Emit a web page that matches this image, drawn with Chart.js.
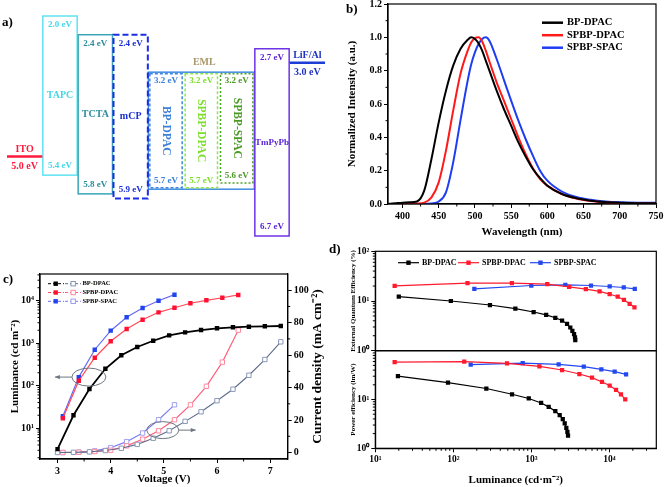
<!DOCTYPE html>
<html>
<head>
<meta charset="utf-8">
<script src="https://cdn.jsdelivr.net/npm/chart.js@4.4.1/dist/chart.umd.min.js"></script>
<style>
  body { margin: 0; background: #fff; }
  #fig { position: relative; width: 665px; height: 487px; overflow: hidden; background: #fff; }
  #fig canvas { position: absolute; }
  .tag { position: absolute; font: bold 13px "Liberation Serif", serif; line-height: 13px; color: #000; }
</style>
</head>
<body>
<div id="fig">
  <canvas id="levelChart" width="330" height="240" style="left:0;top:0"></canvas>
  <canvas id="specChart" width="335" height="240" style="left:330px;top:0"></canvas>
  <canvas id="ivlChart" width="330" height="247" style="left:0;top:240px"></canvas>
  <canvas id="peChart" width="335" height="137" style="left:330px;top:350px"></canvas>
  <canvas id="eqeChart" width="335" height="118" style="left:330px;top:240px"></canvas>
  <div class="tag" style="left:2px;top:15px">a)</div>
  <div class="tag" style="left:346px;top:2px">b)</div>
  <div class="tag" style="left:3px;top:272px">c)</div>
  <div class="tag" style="left:329px;top:242px">d)</div>
</div>
<script>
// a) niveles de energia (eV)
const layerNames = ['ITO', 'TAPC', 'TCTA', 'mCP', 'BP-DPAC', 'SPBP-DPAC', 'SPBP-SPAC', 'TmPyPb', 'LiF/Al'];
const lumoLevels = [null, 2.0, 2.4, 2.4, 3.2, 3.2, 3.2, 2.7, null];
const homoLevels = [null, 5.4, 5.8, 5.9, 5.7, 5.7, 5.6, 6.7, null];
const workFunctions = [5.0, null, null, null, null, null, null, null, 3.0];

// b) espectros EL normalizados
const wavelengths = [380, 390, 400, 410, 420, 430, 440, 450, 460, 470, 480, 490, 495, 500, 505, 510, 515, 520, 530, 540, 550, 560, 570, 580, 590, 600, 620, 640, 660, 680, 700, 725, 750];
const elBP = [0, 0.004, 0.008, 0.01, 0.015, 0.08, 0.27, 0.49, 0.68, 0.83, 0.93, 0.985, 1.0, 0.99, 0.965, 0.92, 0.86, 0.8, 0.68, 0.57, 0.47, 0.37, 0.285, 0.21, 0.155, 0.11, 0.06, 0.035, 0.02, 0.012, 0.008, 0.005, 0.005];
const elSPD = [0, 0, 0, 0.001, 0.003, 0.008, 0.04, 0.13, 0.32, 0.56, 0.78, 0.92, 0.97, 0.995, 1.0, 0.975, 0.92, 0.855, 0.73, 0.62, 0.51, 0.4, 0.3, 0.215, 0.15, 0.11, 0.06, 0.033, 0.018, 0.01, 0.005, 0.003, 0.002];
const elSPS = [0, 0, 0, 0, 0, 0, 0.003, 0.015, 0.07, 0.25, 0.5, 0.74, 0.84, 0.91, 0.96, 0.99, 1.0, 0.98, 0.87, 0.745, 0.62, 0.5, 0.39, 0.29, 0.2, 0.14, 0.075, 0.042, 0.025, 0.015, 0.01, 0.008, 0.008];
const specTicksX = [400, 450, 500, 550, 600, 650, 700, 750];
const specTicksY = [0, 0.2, 0.4, 0.6, 0.8, 1.0, 1.2];

// c) J-V-L
const voltBP = [3.0, 3.3, 3.6, 3.9, 4.2, 4.5, 4.8, 5.1, 5.4, 5.7, 6.0, 6.3, 6.6, 6.9, 7.2];
const lumBP = [3.2, 20, 83, 248, 514, 805, 1130, 1515, 1780, 2020, 2220, 2340, 2420, 2470, 2510];
const curBP = [0, 0.1, 0.4, 1.2, 2.6, 5, 8.8, 13.4, 19.2, 25.1, 31.9, 39.0, 47.6, 57.3, 68.2];
const voltSPD = [3.1, 3.4, 3.7, 4.0, 4.3, 4.6, 4.9, 5.2, 5.5, 5.8, 6.1, 6.4];
const lumSPD = [17, 130, 450, 1100, 2130, 3530, 5270, 6760, 8600, 10100, 11600, 13500];
const curSPD = [0, 0.2, 0.6, 1.4, 4.1, 8.2, 13.4, 20.2, 29.4, 40.8, 55.7, 75.4];
const voltSPS = [3.1, 3.4, 3.7, 4.0, 4.3, 4.6, 4.9, 5.2];
const lumSPS = [19, 158, 695, 1950, 4030, 6670, 9890, 13700];
const curSPS = [0, 0.2, 1.0, 3.0, 6.7, 12, 20.2, 29.4];
const voltTicks = [3, 4, 5, 6, 7];
const lumTicks = [10, 100, 1000, 10000];
const curTicks = [0, 20, 40, 60, 80, 100];

// d) EQE y eficiencia de potencia
const eqeLumBP = [20, 93, 295, 624, 1070, 1550, 2030, 2480, 2870, 3160, 3360, 3530, 3630, 3660];
const eqeBP = [12.2, 10.0, 8.3, 7.0, 6.0, 5.25, 4.6, 4.04, 3.47, 2.93, 2.51, 2.15, 1.85, 1.63];
const eqeLumSPD = [17.7, 152, 563, 1600, 3050, 5000, 7500, 10100, 12800, 15400, 18200, 21000];
const eqeSPD = [20.2, 22.9, 22.9, 21.9, 19.3, 17.4, 15.6, 13.8, 12.2, 10.5, 8.8, 7.45];
const eqeLumSPS = [186, 1000, 2730, 5820, 10100, 15300, 21200];
const eqeSPS = [17.6, 20.5, 21.2, 20.5, 19.6, 18.7, 17.6];
const peLumBP = [19.5, 85.5, 265, 566, 927, 1335, 1670, 2030, 2310, 2530, 2680, 2810, 2900, 2955];
const peBP = [30, 22.2, 16.8, 12.8, 10.5, 8.5, 7.06, 5.77, 4.78, 3.96, 3.24, 2.63, 2.18, 1.81];
const peLumSPD = [17.7, 138, 488, 1270, 2480, 4130, 6000, 8060, 10100, 12200, 14100, 16000];
const peSPD = [58.5, 60, 55, 47.8, 40.2, 33.3, 28.1, 22.9, 19.3, 15.7, 12.7, 10.1];
const peLumSPS = [167, 776, 2240, 4700, 7900, 11700, 16400];
const peSPS = [51.8, 55.8, 52.5, 47.1, 41.5, 37.2, 32.8];
const effLumTicks = [10, 100, 1000, 10000];
const effTicks = [1, 10, 100];

// estilos del diagrama de niveles
const layerColors = ['#ff1a3c', '#5fe3f2', '#3aa6b4', '#1a2ee6', '#3a86e0', '#8ee84a', '#4fa32a', '#6d33e6', '#1e3cd6'];
const layerText = ['#ff1a3c', '#45d6e8', '#2a8d9c', '#1a2ed6', '#3a7fd8', '#7ede2c', '#4c9a26', '#5a22d6', '#1e32c0'];
const layerDash = [[], [], [], [6, 3], [3, 2], [3, 2], [2, 2], [], []];
const layerWidth = [2.5, 1.5, 1.5, 2, 1.5, 1.5, 1.5, 1.5, 2.5];
const layerVertical = [false, false, false, false, true, true, true, false, false];

const SERIF = '"Liberation Serif", "Times New Roman", serif';
Chart.defaults.font.family = SERIF;
Chart.defaults.font.weight = 'bold';
Chart.defaults.color = '#000';
Chart.defaults.animation = false;
Chart.defaults.responsive = false;
Chart.defaults.devicePixelRatio = 1;
Chart.defaults.layout.autoPadding = false;
Chart.defaults.plugins.legend.display = false;
Chart.defaults.plugins.tooltip.enabled = false;

const SUP = { '0': '⁰', '1': '¹', '2': '²', '3': '³', '4': '⁴', '-': '⁻' };
const pow10 = v => '10' + String(Math.round(Math.log10(v))).split('').map(c => SUP[c]).join('');
const pts = (xs, ys) => xs.map((x, i) => ({ x, y: ys[i] }));
const fixTicks = arr => s => { s.ticks = arr.map(v => ({ value: v })); };
const fitY = w => s => { s.width = w; s.paddingTop = 0; s.paddingBottom = 0; };
const fitX = h => s => { s.height = h; s.paddingLeft = 0; s.paddingRight = 0; };

// marcas menores de los ejes log
const logMinor = [];
[1, 10, 100, 1000, 10000].forEach(d => { for (let k = 2; k <= 9; k++) logMinor.push(k * d); });

function axis(size, extra) {
    return Object.assign({
        border: { color: '#000', width: 1.2 },
        grid: { drawOnChartArea: false, color: '#000', tickLength: 4 },
        ticks: { font: { size, weight: 'bold' }, color: '#000', autoSkip: false, maxRotation: 0, padding: 2 }
    }, extra);
}

const framePlugin = {
    id: 'frame',
    afterDraw(chart) {
        const { ctx, chartArea: a } = chart;
        ctx.save();
        ctx.strokeStyle = '#000';
        ctx.lineWidth = 1.2;
        ctx.strokeRect(a.left, a.top, a.right - a.left, a.bottom - a.top);
        ctx.restore();
    }
};

const minorTicks = {
    id: 'minorTicks',
    afterDraw(chart, args, opts) {
        const ctx = chart.ctx;
        ctx.save();
        ctx.strokeStyle = '#000';
        ctx.lineWidth = 1;
        Object.entries(opts.marks || {}).forEach(([id, values]) => {
            const s = chart.scales[id];
            values.forEach(v => {
                if (v <= s.min || v >= s.max) return;
                const p = s.getPixelForValue(v);
                ctx.beginPath();
                if (s.isHorizontal()) { ctx.moveTo(p, s.top); ctx.lineTo(p, s.top + 2.5); }
                else if (s.position === 'left') { ctx.moveTo(s.right, p); ctx.lineTo(s.right - 2.5, p); }
                else { ctx.moveTo(s.left, p); ctx.lineTo(s.left + 2.5, p); }
                ctx.stroke();
            });
        });
        ctx.restore();
    }
};

// GRAFICA A: niveles
const levelPlugin = {
    id: 'levels',
    afterDatasetsDraw(chart) {
        const ctx = chart.ctx;
        const boxes = chart.getDatasetMeta(0).data;
        const leads = chart.getDatasetMeta(1).data;
        const geo = el => el.getProps(['x', 'y', 'base', 'width'], true);
        ctx.save();
        ctx.textAlign = 'center';
        ctx.textBaseline = 'middle';

        // marco EML
        const e0 = geo(boxes[4]), e2 = geo(boxes[6]);
        const eTop = Math.min(e0.y, e0.base), eBot = Math.max(e0.y, e0.base);
        ctx.strokeStyle = '#3f8be0';
        ctx.lineWidth = 1.5;
        ctx.strokeRect(e0.x - e0.width / 2, eTop, e2.x + e2.width / 2 - (e0.x - e0.width / 2), eBot - eTop);
        ctx.fillStyle = '#a89868';
        ctx.font = 'bold 10px ' + SERIF;
        ctx.fillText('EML', e0.x + (e2.x - e0.x) / 2 + 3, eTop - 10);

        boxes.forEach((bar, i) => {
            if (lumoLevels[i] === null) return;
            const g = geo(bar);
            const top = Math.min(g.y, g.base), bottom = Math.max(g.y, g.base);
            const inset = layerVertical[i] ? 1.5 : 0.5;
            ctx.strokeStyle = layerColors[i];
            ctx.lineWidth = layerWidth[i];
            ctx.setLineDash(layerDash[i]);
            ctx.strokeRect(g.x - g.width / 2 + inset, top + (layerVertical[i] ? 1.5 : 0), g.width - 2 * inset, bottom - top - (layerVertical[i] ? 3 : 0));
            ctx.setLineDash([]);
            ctx.fillStyle = layerText[i];
            ctx.font = 'bold 9px ' + SERIF;
            ctx.fillText(lumoLevels[i].toFixed(1) + ' eV', g.x, top + 9);
            ctx.fillText(homoLevels[i].toFixed(1) + ' eV', g.x, bottom - 9);
            const mid = (top + bottom) / 2;
            if (layerVertical[i]) {
                ctx.save();
                ctx.translate(g.x, mid);
                ctx.rotate(Math.PI / 2);
                ctx.font = 'bold 11.5px ' + SERIF;
                ctx.fillText(layerNames[i], 0, 0);
                ctx.restore();
            } else {
                ctx.font = 'bold ' + (layerNames[i].length > 4 ? 9 : 10) + 'px ' + SERIF;
                ctx.fillText(layerNames[i], g.x, mid);
            }
        });

        leads.forEach((bar, i) => {
            if (workFunctions[i] === null) return;
            const g = geo(bar);
            ctx.strokeStyle = layerColors[i];
            ctx.lineWidth = layerWidth[i];
            ctx.beginPath();
            ctx.moveTo(g.x - g.width / 2, g.y);
            ctx.lineTo(g.x + g.width / 2, g.y);
            ctx.stroke();
            ctx.fillStyle = layerText[i];
            ctx.font = 'bold 10px ' + SERIF;
            ctx.fillText(layerNames[i], g.x, g.y - 7);
            ctx.fillText(workFunctions[i].toFixed(1) + ' eV', g.x, g.y + 10);
        });
        ctx.restore();
    }
};

new Chart(document.getElementById('levelChart'), {
    type: 'bar',
    data: {
        labels: layerNames,
        datasets: [
            { label: 'capas', data: lumoLevels.map((v, i) => v === null ? null : [v, homoLevels[i]]), backgroundColor: 'rgba(0,0,0,0)', borderWidth: 0, grouped: false, barPercentage: 1, categoryPercentage: 1 },
            { label: 'electrodos', data: workFunctions.map(v => v === null ? null : [v, v]), backgroundColor: 'rgba(0,0,0,0)', borderWidth: 0, grouped: false, barPercentage: 1, categoryPercentage: 1 }
        ]
    },
    options: {
        layout: { padding: { left: 7, right: 5, top: 16, bottom: 4 } },
        scales: {
            x: { display: false },
            y: { display: false, reverse: true, min: 2.0, max: 6.7 }
        }
    },
    plugins: [levelPlugin]
});

// GRAFICA B: espectros
const specLegend = {
    id: 'specLegend',
    afterDraw(chart) {
        const ctx = chart.ctx;
        ctx.save();
        ctx.font = 'bold 10.5px ' + SERIF;
        ctx.textBaseline = 'middle';
        chart.data.datasets.forEach((ds, i) => {
            const y = 22.7 + i * 12.5;
            ctx.strokeStyle = ds.borderColor;
            ctx.lineWidth = 2.5;
            ctx.beginPath(); ctx.moveTo(212, y); ctx.lineTo(233, y); ctx.stroke();
            ctx.fillStyle = '#000';
            ctx.fillText(ds.label, 237, y);
        });
        ctx.restore();
    }
};

const specLine = (label, ys, color) => ({
    label, data: pts(wavelengths, ys), borderColor: color, borderWidth: 2,
    pointRadius: 0, cubicInterpolationMode: 'monotone', fill: false
});

new Chart(document.getElementById('specChart'), {
    type: 'line',
    data: {
        datasets: [
            specLine('BP-DPAC', elBP, '#000000'),
            specLine('SPBP-DPAC', elSPD, '#ff1a1a'),
            specLine('SPBP-SPAC', elSPS, '#1f3df2')
        ]
    },
    options: {
        layout: { padding: { top: 4, right: 9, left: 0, bottom: 0 } },
        plugins: { minorTicks: { marks: { x: [425, 475, 525, 575, 625, 675, 725], y: [0.1, 0.3, 0.5, 0.7, 0.9, 1.1] } } },
        scales: {
            x: axis(10, {
                type: 'linear', min: 380, max: 750,
                afterBuildTicks: fixTicks(specTicksX),
                afterFit: fitX(36),
                title: { display: true, text: 'Wavelength (nm)', font: { size: 11, weight: 'bold' }, color: '#000', padding: { top: 0, bottom: 1.4 } }
            }),
            y: axis(10, {
                min: 0, max: 1.2,
                afterBuildTicks: fixTicks(specTicksY),
                afterFit: fitY(58),
                title: { display: true, text: 'Normalized Intensity (a.u.)', font: { size: 11, weight: 'bold' }, color: '#000', padding: { top: 16, bottom: 0 } }
            })
        }
    },
    plugins: [framePlugin, minorTicks, specLegend]
});
Chart.getChart('specChart').options.scales.y.ticks.callback = v => v.toFixed(1);
Chart.getChart('specChart').update();

// GRAFICA C: luminancia y densidad de corriente
const ivlSeries = [
    { label: 'BP-DPAC', lumColor: '#000000', lumMark: '#000000', curColor: '#5d6d8d', curMark: '#8898b8' },
    { label: 'SPBP-DPAC', lumColor: '#ff4a5a', lumMark: '#ff1030', curColor: '#ff5c7a', curMark: '#ff8aa0' },
    { label: 'SPBP-SPAC', lumColor: '#6a6af0', lumMark: '#2244ee', curColor: '#7a7aee', curMark: '#a0a0f2' }
];

const ivlExtras = {
    id: 'ivlExtras',
    afterDraw(chart) {
        const { ctx, chartArea: a, scales } = chart;
        ctx.save();
        // leyenda
        ctx.font = 'bold 6.5px ' + SERIF;
        ctx.textBaseline = 'middle';
        ivlSeries.forEach((s, i) => {
            const y = a.top + 9.7 + i * 8.8;
            ctx.lineWidth = 1;
            ctx.setLineDash([3, 2]);
            ctx.strokeStyle = s.lumColor;
            ctx.beginPath(); ctx.moveTo(a.left + 8, y); ctx.lineTo(a.left + 24, y); ctx.stroke();
            ctx.strokeStyle = s.curColor;
            ctx.beginPath(); ctx.moveTo(a.left + 25, y); ctx.lineTo(a.left + 41, y); ctx.stroke();
            ctx.setLineDash([]);
            ctx.fillStyle = s.lumMark;
            ctx.fillRect(a.left + 13.5, y - 2.2, 4.4, 4.4);
            ctx.fillStyle = '#fff';
            ctx.strokeStyle = s.curMark;
            ctx.fillRect(a.left + 31, y - 2.2, 4.4, 4.4);
            ctx.strokeRect(a.left + 31, y - 2.2, 4.4, 4.4);
            ctx.fillStyle = '#000';
            ctx.fillText(s.label, a.left + 42.5, y);
        });

        // elipses y flechas
        ctx.strokeStyle = '#6e7682';
        ctx.fillStyle = '#6e7682';
        ctx.lineWidth = 1;
        const arrow = (x0, x1, y) => {
            const d = Math.sign(x1 - x0);
            ctx.beginPath(); ctx.moveTo(x0, y); ctx.lineTo(x1, y); ctx.stroke();
            ctx.beginPath(); ctx.moveTo(x1, y); ctx.lineTo(x1 - d * 5, y - 2.2); ctx.lineTo(x1 - d * 5, y + 2.2); ctx.closePath(); ctx.fill();
        };
        const c1x = scales.x.getPixelForValue(3.59), c1y = scales.yL.getPixelForValue(158);
        ctx.beginPath(); ctx.ellipse(c1x, c1y, 17, 9, 0, 0, Math.PI * 2); ctx.stroke();
        arrow(c1x - 17, scales.x.getPixelForValue(2.95), c1y);
        const c2x = scales.x.getPixelForValue(4.98), c2y = scales.yJ.getPixelForValue(13.8);
        ctx.beginPath(); ctx.ellipse(c2x, c2y, 16, 8.5, 0, 0, Math.PI * 2); ctx.stroke();
        arrow(c2x + 16, scales.x.getPixelForValue(5.6), c2y);

        // titulo eje derecho
        ctx.fillStyle = '#000';
        ctx.font = 'bold 13.5px ' + SERIF;
        ctx.textAlign = 'center';
        ctx.translate(318, (a.top + a.bottom) / 2);
        ctx.rotate(-Math.PI / 2);
        ctx.fillText('Current density (mA cm⁻²)', 0, 0);
        ctx.restore();
    }
};

const ivlDatasets = [];
[[voltBP, lumBP], [voltSPD, lumSPD], [voltSPS, lumSPS]].forEach(([v, l], i) => {
    const s = ivlSeries[i];
    ivlDatasets.push({
        label: s.label, data: pts(v, l), yAxisID: 'yL',
        borderColor: s.lumColor, borderWidth: i === 0 ? 1.8 : 1.2,
        pointStyle: 'rect', pointRadius: 3.1, pointBackgroundColor: s.lumMark, pointBorderColor: s.lumMark, pointBorderWidth: 0
    });
});
[[voltBP, curBP], [voltSPD, curSPD], [voltSPS, curSPS]].forEach(([v, c], i) => {
    const s = ivlSeries[i];
    ivlDatasets.push({
        label: s.label, data: pts(v, c), yAxisID: 'yJ',
        borderColor: s.curColor, borderWidth: 1.1,
        pointStyle: 'rect', pointRadius: 3.1, pointBackgroundColor: '#fff', pointBorderColor: s.curMark, pointBorderWidth: 1
    });
});

new Chart(document.getElementById('ivlChart'), {
    type: 'line',
    data: { datasets: ivlDatasets },
    options: {
        layout: { padding: { top: 34, right: 0, left: 0, bottom: 0 } },
        plugins: { minorTicks: { marks: { x: [3.5, 4.5, 5.5, 6.5], yL: logMinor, yJ: [10, 30, 50, 70, 90] } } },
        scales: {
            x: axis(10, {
                type: 'linear', min: 2.67, max: 7.33,
                afterBuildTicks: fixTicks(voltTicks),
                afterFit: fitX(28),
                title: { display: true, text: 'Voltage (V)', font: { size: 11, weight: 'bold' }, color: '#000', padding: { top: 0, bottom: 1.4 } }
            }),
            yL: axis(10, {
                type: 'logarithmic', position: 'left', min: 1.87, max: 42000,
                afterBuildTicks: fixTicks(lumTicks),
                afterFit: fitY(40),
                title: { display: true, text: 'Luminance (cd m⁻²)', font: { size: 11, weight: 'bold' }, color: '#000', padding: { top: 8.4, bottom: 0 } }
            }),
            yJ: axis(10, {
                type: 'linear', position: 'right', min: -4, max: 110,
                afterBuildTicks: fixTicks(curTicks),
                afterFit: fitY(42.3)
            })
        }
    },
    plugins: [framePlugin, minorTicks, ivlExtras]
});
const ivl = Chart.getChart('ivlChart');
ivl.options.scales.yL.ticks.callback = v => pow10(v);
ivl.options.scales.yJ.ticks.callback = v => String(v);
ivl.update();

// GRAFICA D: eficiencias
const effSeries = [
    { label: 'BP-DPAC', color: '#000000' },
    { label: 'SPBP-DPAC', color: '#ff1a2e' },
    { label: 'SPBP-SPAC', color: '#2348f0' }
];
const effLegendX = [68, 128, 200];

const effLegend = {
    id: 'effLegend',
    afterDraw(chart) {
        const ctx = chart.ctx;
        ctx.save();
        ctx.font = 'bold 8px ' + SERIF;
        ctx.textBaseline = 'middle';
        effSeries.forEach((s, i) => {
            const x = effLegendX[i], y = 22.7;
            ctx.strokeStyle = s.color;
            ctx.lineWidth = 1.2;
            ctx.beginPath(); ctx.moveTo(x, y); ctx.lineTo(x + 21, y); ctx.stroke();
            ctx.fillStyle = s.color;
            ctx.fillRect(x + 8.3, y - 2.2, 4.4, 4.4);
            ctx.fillStyle = '#000';
            ctx.fillText(s.label, x + 24, y);
        });
        ctx.restore();
    }
};

const effLine = (i, xs, ys) => ({
    label: effSeries[i].label, data: pts(xs, ys),
    borderColor: effSeries[i].color, borderWidth: 1.2,
    pointStyle: 'rect', pointRadius: 3, pointBackgroundColor: effSeries[i].color, pointBorderColor: effSeries[i].color, pointBorderWidth: 0
});

new Chart(document.getElementById('eqeChart'), {
    type: 'line',
    data: { datasets: [effLine(0, eqeLumBP, eqeBP), effLine(1, eqeLumSPD, eqeSPD), effLine(2, eqeLumSPS, eqeSPS)] },
    options: {
        layout: { padding: { top: 11.3, right: 8.7, left: 0, bottom: 7.3 } },
        plugins: { minorTicks: { marks: { y: logMinor } } },
        scales: {
            x: { type: 'logarithmic', display: false, min: 10, max: 40000 },
            y: axis(9.5, {
                type: 'logarithmic', min: 1, max: 100,
                afterBuildTicks: fixTicks(effTicks),
                afterFit: fitY(45.3),
                title: { display: true, text: 'External Quantum Efficiency (%)', font: { size: 7, weight: 'bold' }, color: '#000', padding: { top: 18.5, bottom: 0 } }
            })
        }
    },
    plugins: [framePlugin, minorTicks, effLegend]
});
Chart.getChart('eqeChart').options.scales.y.ticks.callback = v => pow10(v);
Chart.getChart('eqeChart').update();

new Chart(document.getElementById('peChart'), {
    type: 'line',
    data: { datasets: [effLine(0, peLumBP, peBP), effLine(1, peLumSPD, peSPD), effLine(2, peLumSPS, peSPS)] },
    options: {
        layout: { padding: { top: 0.7, right: 8.7, left: 0, bottom: 0 } },
        plugins: { minorTicks: { marks: { x: logMinor, y: logMinor } } },
        scales: {
            x: axis(9.5, {
                type: 'logarithmic', min: 10, max: 40000,
                afterBuildTicks: fixTicks(effLumTicks),
                afterFit: fitX(38.7),
                title: { display: true, text: 'Luminance (cd·m⁻²)', font: { size: 11, weight: 'bold' }, color: '#000', padding: { top: 0, bottom: 0.4 } }
            }),
            y: axis(9.5, {
                type: 'logarithmic', min: 1, max: 100,
                afterBuildTicks: fixTicks(effTicks),
                afterFit: fitY(45.3),
                title: { display: true, text: 'Power efficiency (lm/W)', font: { size: 7, weight: 'bold' }, color: '#000', padding: { top: 18.5, bottom: 0 } }
            })
        }
    },
    plugins: [framePlugin, minorTicks]
});
const pe = Chart.getChart('peChart');
pe.options.scales.x.ticks.callback = v => pow10(v);
pe.options.scales.y.ticks.callback = v => v >= 100 ? '' : pow10(v);
pe.update();
</script>
</body>
</html>
